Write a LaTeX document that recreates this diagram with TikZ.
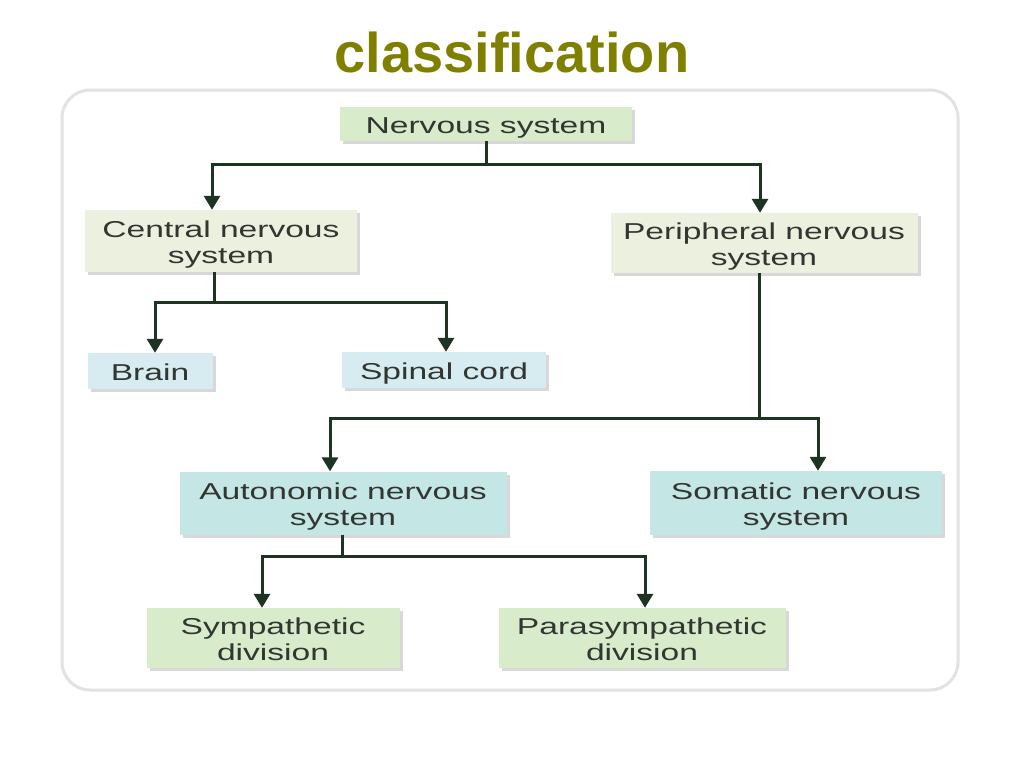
\documentclass[tikz,border=0pt]{standalone}
\usepackage{fontspec}
\setmainfont{Liberation Sans}
\newfontfamily\boxfont[FakeStretch=1.46]{Liberation Sans}
\usetikzlibrary{arrows.meta,shadows}
\definecolor{titlecol}{RGB}{128,128,0}
\definecolor{linecol}{RGB}{30,52,34}
\definecolor{txtcol}{RGB}{50,54,50}
\definecolor{gfill}{RGB}{216,235,202}
\definecolor{bfill}{RGB}{236,240,222}
\definecolor{blfill}{RGB}{214,236,240}
\definecolor{tfill}{RGB}{196,230,228}
\definecolor{frame}{RGB}{226,226,226}
\tikzset{
  box/.style={rectangle, inner sep=0pt, align=center, text=txtcol,
    font=\boxfont\fontsize{23}{26}\selectfont,
    drop shadow={shadow xshift=3pt, shadow yshift=-3pt, fill=black!30, opacity=0.5}},
  oneline/.style={box, text height=20pt, text depth=2pt},
  twoline/.style={box, text height=48pt, text depth=4pt},
  conn/.style={draw=linecol, line width=3pt},
  arr/.style={conn, -{Triangle[width=16pt,length=14pt]}}
}
\begin{document}
\begin{tikzpicture}[x=1pt,y=-1pt]
\useasboundingbox (0,0) rectangle (1024,768);
\fill[white] (0,0) rectangle (1024,768);
\draw[frame, line width=3pt, rounded corners=28pt] (62,90) rectangle (958,690);
\node[font=\bfseries\fontsize{56}{60}\selectfont, text=titlecol, anchor=base] (title) at (512,72) {classification};

\node[oneline, fill=gfill, minimum width=292pt, minimum height=34pt] (ns) at (486,124) {Nervous system};
\node[twoline, fill=bfill, minimum width=272pt, minimum height=62pt] (cns) at (221,241) {Central nervous\\system};
\node[twoline, fill=bfill, minimum width=307pt, minimum height=60pt] (pns) at (764,243) {Peripheral nervous\\system};
\node[oneline, fill=blfill, minimum width=125pt, minimum height=36pt] (brain) at (150,371) {Brain};
\node[oneline, fill=blfill, minimum width=204pt, minimum height=36pt] (spinal) at (444,370) {Spinal cord};
\node[twoline, fill=tfill, minimum width=327pt, minimum height=63pt] (ans) at (343,503) {Autonomic nervous\\system};
\node[twoline, fill=tfill, minimum width=292pt, minimum height=64pt] (sns) at (796,503) {Somatic nervous\\system};
\node[twoline, fill=gfill, minimum width=253pt, minimum height=60pt] (sym) at (273,638) {Sympathetic\\division};
\node[twoline, fill=gfill, minimum width=287pt, minimum height=60pt] (para) at (642,638) {Parasympathetic\\division};

\coordinate (j1) at (486,164);
\coordinate (j2) at (214,302);
\coordinate (j3) at (759,418);
\coordinate (j4) at (342,556);

\draw[conn] (ns.south -| j1) -- (j1);
\draw[arr] (j1) -| ([xshift=-9pt]cns.north);
\draw[arr] (j1) -| ([xshift=-4pt]pns.north);

\draw[conn] (cns.south -| j2) -- (j2);
\draw[arr] (j2) -| ([xshift=5pt]brain.north);
\draw[arr] (j2) -| ([xshift=2pt]spinal.north);

\draw[conn] (pns.south -| j3) -- (j3);
\draw[arr] (j3) -| ([xshift=-13pt]ans.north);
\draw[arr] (j3) -| ([xshift=22pt]sns.north);

\draw[conn] (ans.south -| j4) -- (j4);
\draw[arr] (j4) -| ([xshift=-11pt]sym.north);
\draw[arr] (j4) -| ([xshift=3pt]para.north);
\end{tikzpicture}
\end{document}
